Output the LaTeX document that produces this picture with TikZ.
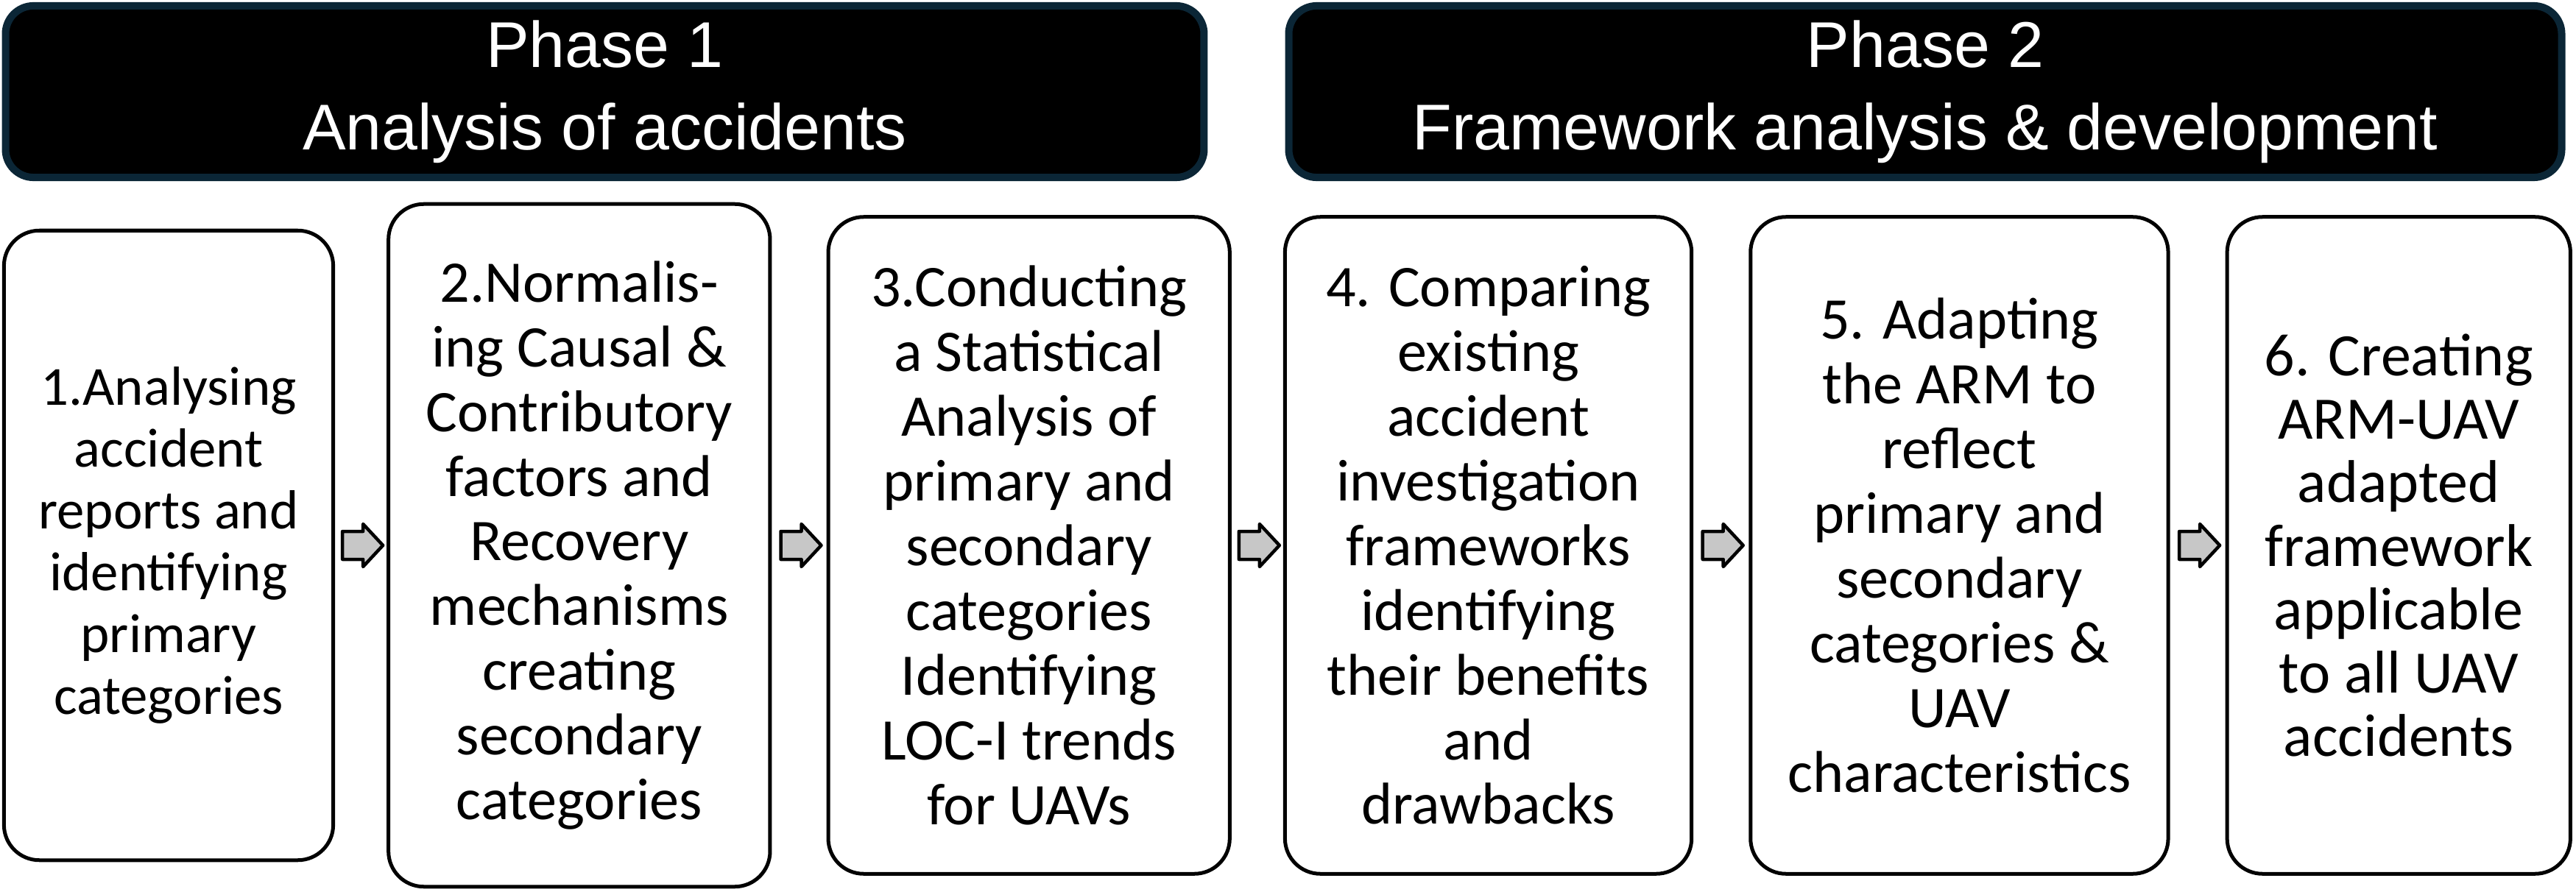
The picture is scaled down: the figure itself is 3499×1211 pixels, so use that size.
\documentclass[tikz,border=0pt]{standalone}
\usepackage{fontspec}
\setmainfont{Carlito}
\newfontfamily\headfont{Liberation Sans}
\usepackage{tikz}
\usetikzlibrary{positioning, calc}
\definecolor{phaseedge}{HTML}{0B2636}

\begin{document}
\begin{tikzpicture}[x=0.01cm, y=0.01cm]
				
				\tikzset{phase/.style={
						draw=phaseedge, line width=0.1cm,
						fill=black, text=white,
						rounded corners=0.38cm,
						align=center, inner sep=0pt,
						minimum height=2.33cm,
						font=\headfont\fontsize{25pt}{31.9pt}\selectfont
					},
					stepbox/.style={
						draw, line width=0.05cm,
						rounded corners=0.48cm,
						minimum height=#1,
						anchor=center,
						align=center,
						inner sep=0pt,
						font=\fontsize{22.8pt}{25pt}\selectfont
					},
					stepbox/.default=8.92cm,
					step arrow/.style={draw=black, line width=0.045cm, fill=black!22, line join=round}
				}
				
				\useasboundingbox (0,0) rectangle (3499,1211);
				
				\node[phase, minimum width=16.27cm] (phaseone) at (821.5,1086.5) {Phase 1\\Analysis of accidents};
				\node[phase, minimum width=17.28cm] (phasetwo) at (2615,1086.5) {Phase 2\\Framework analysis \& development};
				
				\node[stepbox=8.55cm, minimum width=4.47cm, font=\fontsize{21.3pt}{23.9pt}\selectfont] (step1) at (229,470) {1.Analysing\\accident\\reports and\\identifying\\primary\\categories};
				\node[stepbox=9.27cm, minimum width=5.18cm, right=0.70cm of step1] (step2) {2.Normalis-\\ing Causal \&\\Contributory\\factors and\\Recovery\\mechanisms\\creating\\secondary\\categories};
				\node[stepbox, minimum width=5.45cm, right=0.74cm of step2] (step3) {3.Conducting\\a Statistical\\Analysis of\\primary and\\secondary\\categories\\Identifying\\LOC-I trends\\for UAVs};
				\node[stepbox, minimum width=5.52cm, right=0.70cm of step3] (step4) {4. Comparing\\existing\\accident\\investigation\\frameworks\\identifying\\their benefits\\and\\drawbacks};
				\node[stepbox, minimum width=5.67cm, right=0.75cm of step4] (step5) {5. Adapting\\the ARM to\\reflect\\primary and\\secondary\\categories \&\\UAV\\characteristics};
				\node[stepbox, minimum width=4.66cm, right=0.75cm of step5, font=\fontsize{23.3pt}{24.5pt}\selectfont] (step6) {6. Creating\\ARM-UAV\\adapted\\framework\\applicable\\to all UAV\\accidents};
				
				\foreach \a/\b in {1/2, 2/3, 3/4, 4/5, 5/6}
					\draw[step arrow] ($(step\a.east)!0.5!(step\b.west)$) ++(-25,-19) -- ++(28,0) -- ++(0,-10) -- ++(27,29) -- ++(-27,29) -- ++(0,-10) -- ++(-28,0) -- cycle;
				
				\end{tikzpicture}
\end{document}
